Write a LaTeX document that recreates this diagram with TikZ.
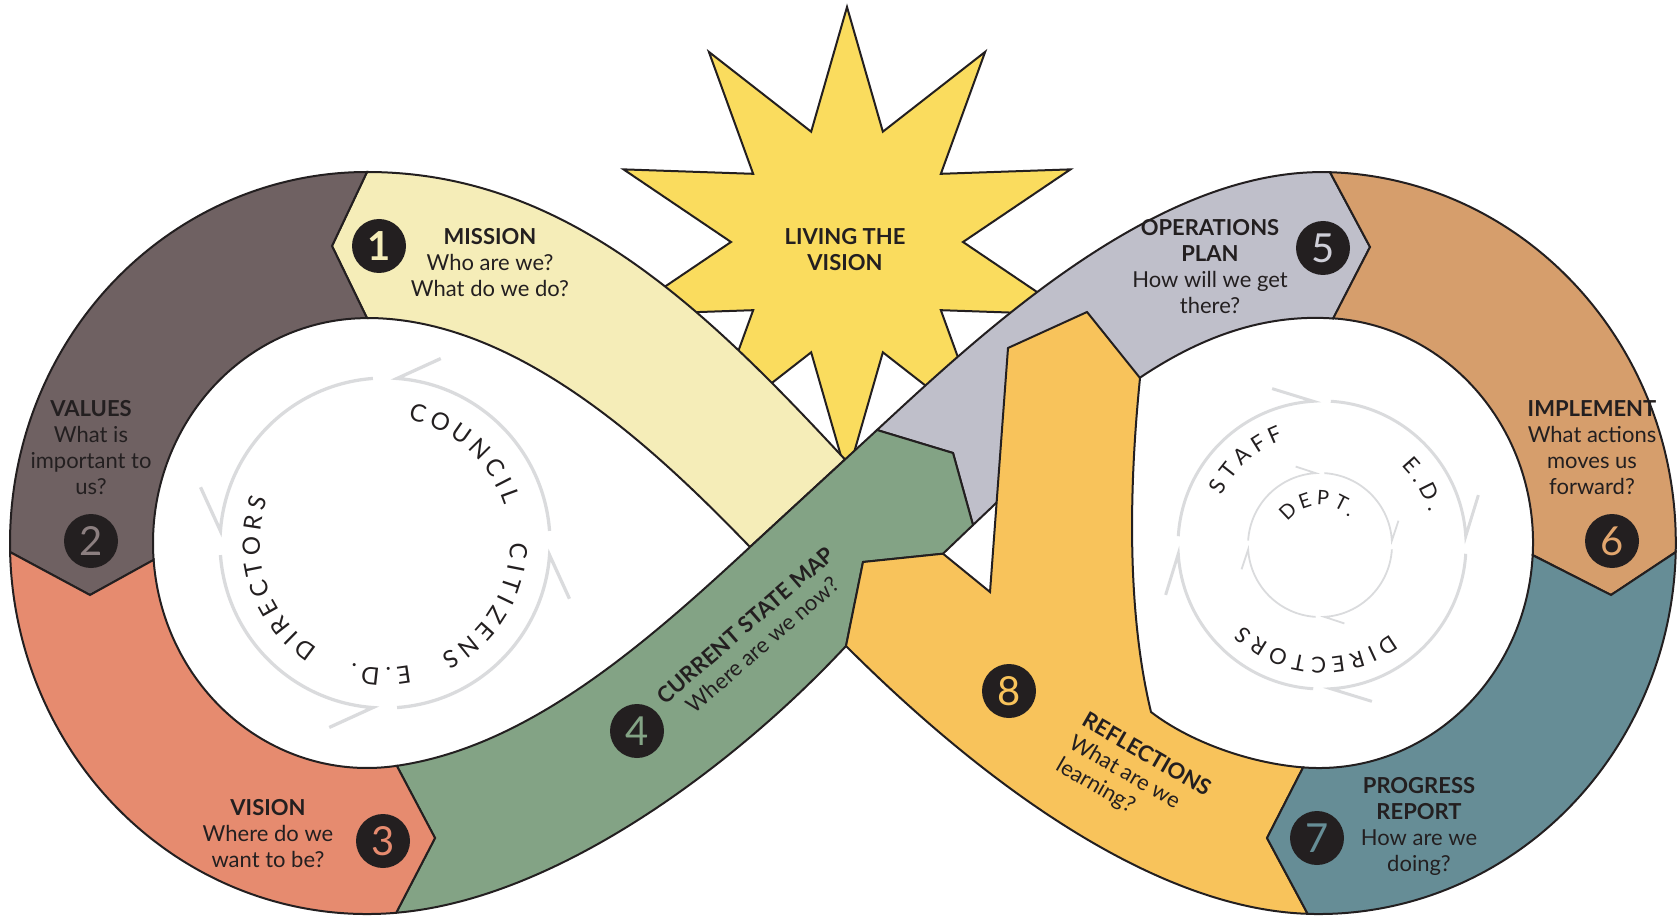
\documentclass[tikz,border=0pt]{standalone}
\usepackage{fontspec}
\setmainfont{Lato}
\definecolor{ink}{HTML}{231F20}
\definecolor{yellowc}{HTML}{F5EDB8}
\definecolor{brownc}{HTML}{6F6162}
\definecolor{salmonc}{HTML}{E68B6F}
\definecolor{greenc}{HTML}{83A385}
\definecolor{grayc}{HTML}{BFBFCA}
\definecolor{tanc}{HTML}{D69E6C}
\definecolor{tealc}{HTML}{668D96}
\definecolor{orangec}{HTML}{F8C35B}
\definecolor{starc}{HTML}{FADC5E}
\definecolor{ringc}{HTML}{DADBDD}
\definecolor{ntwo}{HTML}{8C7F80}
\definecolor{nfive}{HTML}{CFCFD8}
\definecolor{nsix}{HTML}{E2A66E}
\begin{document}
\begin{tikzpicture}[x=0.5pt,y=0.5pt,
  band/.style={draw=ink, line width=1pt, line join=miter, miter limit=10},
  numc/.style={circle, fill=ink, minimum size=27pt, inner sep=0pt, font=\fontsize{20}{20}\selectfont},
  lbl/.style={align=center, text=ink, inner sep=0pt, font=\fontsize{11}{13}\selectfont},
  ringL/.style={draw=ringc, line width=1.65pt},
  ringR/.style={draw=ringc, line width=1.5pt},
  ringI/.style={draw=ringc, line width=0.9pt},
  rlblL/.style={text=ink, inner sep=0pt, anchor=base, font=\fontsize{12}{12}\selectfont},
  rlblR/.style={text=ink, inner sep=0pt, anchor=base, font=\fontsize{11}{11}\selectfont},
  rlblI/.style={text=ink, inner sep=0pt, anchor=base, font=\fontsize{10}{10}\selectfont}]
\useasboundingbox (0,0) rectangle (1679,917);

% ---------- star ----------
\coordinate (sc) at (847,675);
\filldraw[fill=starc, draw=ink, line width=1pt] ([shift={(90:235)}]sc)
  \foreach \i in {1,...,19}{ -- ([shift={({90+18*\i}:{235-119*mod(\i,2)})}]sc) } -- cycle;

% ---------- band 1 (yellow) ----------
\filldraw[band, fill=yellowc] (332,671) -- (367,745) .. controls (567,745) and (707,606) .. (845,457.5)
  -- (750,370) .. controls (659,464) and (519,599) .. (367,599) -- cycle;

% ---------- band 5 (gray) ----------
\filldraw[band, fill=grayc] (877,487) .. controls (987,589) and (1160,750) .. (1330,744.8)
  -- (1370,670) -- (1333.2,598.5) .. controls (1190,608.5) and (1080,497) .. (992,410)
  -- (973,392) -- (953,464) -- cycle;

% ---------- band 4 (green) ----------
\filldraw[band, fill=greenc] (396.8,151.2) .. controls (526,170) and (640,268) .. (750,370)
  -- (877,487) -- (953,464) -- (973,392) -- (943,363.3) -- (863,355) -- (846,271)
  .. controls (740,157) and (560,18) .. (396.2,4.25) -- (435,79) -- cycle;

% ---------- band 8 (orange) ----------
\filldraw[band, fill=orangec] (846,271) -- (863,355) -- (943,363.3) -- (990,325) -- (1008,569)
  -- (1087,605) -- (1140,539) .. controls (1128,420) and (1128,300) .. (1151,205)
  .. controls (1190,175) and (1250,153.7) .. (1303.1,149.6) -- (1267,79) -- (1307.6,3.2)
  .. controls (1148,8.4) and (973,144) .. (846,271) -- cycle;

% ---------- left loop ----------
\filldraw[band, fill=brownc] (367,745) arc[start angle=90, end angle=181.4, x radius=357, y radius=371]
  -- (90,322) -- (153.6,357) arc[start angle=184.3, end angle=90, x radius=214, y radius=225]
  -- (332,671) -- cycle;
\filldraw[band, fill=salmonc] (10.1,364.9) arc[start angle=181.4, end angle=274.7, x radius=357, y radius=371]
  -- (435,79) -- (396.8,151.2) arc[start angle=278, end angle=184.3, x radius=214, y radius=225]
  -- (90,322) -- cycle;

% ---------- right loop ----------
\filldraw[band, fill=tanc] (1330,744.8) arc[start angle=88.2, end angle=-1.4, x radius=357, y radius=371]
  -- (1611,322) -- (1532.7,362) arc[start angle=-3.1, end angle=86.2, x radius=214, y radius=225]
  -- (1370,670) -- cycle;
\filldraw[band, fill=tealc] (1675.7,364.9) arc[start angle=-1.4, end angle=-91.8, x radius=357, y radius=371]
  -- (1267,79) -- (1303.1,149.6) arc[start angle=-94.25, end angle=-3.1, x radius=214, y radius=225]
  -- (1611,322) -- cycle;

% ---------- rings ----------
\coordinate (lr) at (385,374);
\coordinate (rr) at (1322,372);
\coordinate (ir) at (1320,372);
\foreach \q in {0,90,180,270}{
  \draw[ringL] ([shift={({\q+4.2}:165)}]lr) arc[start angle=\q+4.2, end angle=\q+85.8, radius=165]
     -- ++({\q+85.8-61.3}:48);
  \draw[ringR] ([shift={({\q+86.5}:144)}]rr) arc[start angle=\q+86.5, end angle=\q+3.5, radius=144]
     -- ++({\q+3.5+69.4}:43);
  \draw[ringI] ([shift={({\q+86.5}:72)}]ir) arc[start angle=\q+86.5, end angle=\q+3.5, radius=72]
     -- ++({\q+3.5+68.2}:21);
}

% ring labels, left
\foreach \l/\a [count=\k] in {C/75.7,O/65.5,U/55.0,N/44.6,C/34.6,I/27.1,L/20.3}
  \node[rlblL, rotate={\a-90}] (council\k) at ([shift={(\a:125)}]lr) {\l};
\foreach \l/\a [count=\k] in {C/-3.6,I/-11.1,T/-18.3,I/-25.5,Z/-32.8,E/-41.6,N/-51.1,S/-60.4}
  \node[rlblL, rotate={\a-90}] (citizens\k) at ([shift={(\a:125)}]lr) {\l};
\foreach \l/\a [count=\k] in {E/-81.8,./-88.5,D/-96.3,./-104.1}
  \node[rlblL, rotate={\a-90}] (edl\k) at ([shift={(\a:125)}]lr) {\l};
\foreach \l/\a [count=\k] in {D/233.4,I/225.4,R/218.1,E/209.3,C/200.3,T/191.1,O/181.2,R/171.2,S/162.6}
  \node[rlblL, rotate={\a-90}] (dirl\k) at ([shift={(\a:125)}]lr) {\l};

% ring labels, right
\foreach \l/\a [count=\k] in {S/150.6,T/141.7,A/131.8,F/122.2,F/113.4}
  \node[rlblR, rotate={\a-90}] (staff\k) at ([shift={(\a:112)}]rr) {\l};
\foreach \l/\a [count=\k] in {E/41.75,./34.6,D/26.4,./18.2}
  \node[rlblR, rotate={\a-90}] (edr\k) at ([shift={(\a:112)}]rr) {\l};
\foreach \l/\a [count=\k] in {D/303.2,I/294.8,R/287.1,E/277.9,C/268.5,T/258.8,O/248.5,R/238.0,S/228.9}
  \node[rlblR, rotate={\a-90}] (dirr\k) at ([shift={(\a:112)}]rr) {\l};
\foreach \l/\a [count=\k] in {D/133.4,E/108.9,P/86.3,T/63.1,./46.7}
  \node[rlblI, rotate={\a-90}] (dept\k) at ([shift={(\a:40)}]ir) {\l};

% ---------- texts ----------
\node[lbl] (living) at (845,667) {\textbf{LIVING THE}\\\textbf{VISION}};
\node[lbl] (mission) at (490,654) {\textbf{MISSION}\\Who are we?\\What do we do?};
\node[lbl] (values) at (91,469) {\textbf{VALUES}\\What is\\important to\\us?};
\node[lbl] (visiontxt) at (268,83) {\textbf{VISION}\\Where do we\\want to be?};
\node[lbl, rotate=41] (csm) at (754,282) {\textbf{CURRENT STATE MAP}\\Where are we now?};
\node[lbl] (ops) at (1210,650) {\textbf{OPERATIONS}\\\textbf{PLAN}\\How will we get\\there?};
\node[lbl] (impl) at (1592,469) {\textbf{IMPLEMENT}\\What actions\\moves us\\forward?};
\node[lbl] (prog) at (1419,91) {\textbf{PROGRESS}\\\textbf{REPORT}\\How are we\\doing?};
\node[lbl, align=left, rotate=-30] (refl) at (1133,139) {\textbf{REFLECTIONS}\\What are we\\learning?};

% ---------- numbers ----------
\node[numc, text=yellowc] (n1) at (379,671) {\textbf{1}};
\node[numc, text=ntwo] (n2) at (91,376) {2};
\node[numc, text=salmonc] (n3) at (383,76) {3};
\node[numc, text=greenc] (n4) at (637,186) {4};
\node[numc, text=nfive] (n5) at (1323,669) {5};
\node[numc, text=nsix] (n6) at (1612,376) {6};
\node[numc, text=tealc] (n7) at (1317,79) {7};
\node[numc, text=orangec] (n8) at (1009,226) {8};
\end{tikzpicture}
\end{document}
